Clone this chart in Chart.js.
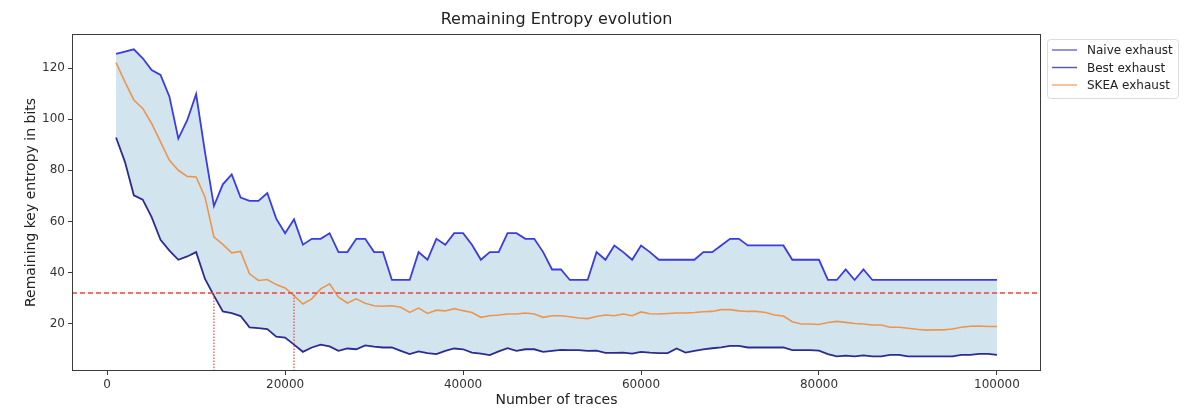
<!DOCTYPE html>
<html>
<head>
<meta charset="utf-8">
<script src="https://cdn.jsdelivr.net/npm/chart.js@4/dist/chart.umd.min.js"></script>
<style>
  html, body { margin: 0; padding: 0; background: #fff; }
  #wrap { width: 1200px; height: 414px; }
</style>
</head>
<body>
<div id="wrap"><canvas id="myChart" width="1200" height="414"></canvas></div>
<script>
'use strict'

// data

var traces = [
  1000, 2000, 3000, 4000, 5000, 6000, 7000, 8000, 9000, 10000,
  11000, 12000, 13000, 14000, 15000, 16000, 17000, 18000, 19000, 20000,
  21000, 22000, 23000, 24000, 25000, 26000, 27000, 28000, 29000, 30000,
  31000, 32000, 33000, 34000, 35000, 36000, 37000, 38000, 39000, 40000,
  41000, 42000, 43000, 44000, 45000, 46000, 47000, 48000, 49000, 50000,
  51000, 52000, 53000, 54000, 55000, 56000, 57000, 58000, 59000, 60000,
  61000, 62000, 63000, 64000, 65000, 66000, 67000, 68000, 69000, 70000,
  71000, 72000, 73000, 74000, 75000, 76000, 77000, 78000, 79000, 80000,
  81000, 82000, 83000, 84000, 85000, 86000, 87000, 88000, 89000, 90000,
  91000, 92000, 93000, 94000, 95000, 96000, 97000, 98000, 99000, 100000
];

var naive = [
  125.5, 126.4, 127.3, 123.8, 119.2, 117.3, 108.8, 92.4, 99.6, 109.8,
  87, 66, 74.5, 78.4, 69.3, 68, 68, 71.1, 61.1, 55.4,
  60.8, 50.9, 53.2, 53.2, 55.4, 48, 48, 53.2, 53.2, 48,
  48, 37.1, 37.1, 37.1, 48, 45, 53.2, 50.9, 55.4, 55.4,
  50.9, 45, 48, 48, 55.4, 55.4, 53.2, 53.2, 48, 41.2,
  41.2, 37.1, 37.1, 37.1, 48, 45, 50.6, 48, 45, 50.6,
  48, 45, 45, 45, 45, 45, 48, 48, 50.6, 53.2,
  53.2, 50.6, 50.6, 50.6, 50.6, 50.6, 45, 45, 45, 45,
  37.1, 37.1, 41.2, 37.1, 41.2, 37.1, 37.1, 37.1, 37.1, 37.1,
  37.1, 37.1, 37.1, 37.1, 37.1, 37.1, 37.1, 37.1, 37.1, 37.1
];

var best = [
  92.8, 83.3, 70.2, 68.5, 61.7, 52.8, 48.6, 45, 46.3, 48,
  37.5, 31, 24.8, 24.1, 23, 18.6, 18.3, 17.9, 14.9, 14.6,
  11.8, 9, 10.7, 11.8, 11.1, 9.4, 10.3, 10, 11.5, 11,
  10.7, 10.7, 9.4, 8.1, 9.2, 8.5, 8.1, 9.4, 10.3, 10,
  8.7, 8.3, 7.7, 9.2, 10.4, 9.4, 10, 10, 9, 9.4,
  9.8, 9.7, 9.7, 9.4, 9.5, 8.6, 8.6, 8.7, 8.3, 9,
  8.7, 8.5, 8.5, 10.3, 8.7, 9.4, 10, 10.4, 10.7, 11.3,
  11.3, 10.7, 10.7, 10.7, 10.7, 10.7, 9.7, 9.7, 9.7, 9.5,
  8.1, 7.2, 7.5, 7.2, 7.6, 7.2, 7.2, 7.8, 7.8, 7.2,
  7.2, 7.2, 7.2, 7.2, 7.2, 7.8, 7.8, 8.2, 8.2, 7.8
];

var skea = [
  122.1, 114.6, 107.5, 104.2, 98.3, 91.1, 83.9, 80, 77.6, 77.4,
  69.5, 53.9, 51, 47.7, 48.3, 39.5, 36.9, 37.3, 35.3, 34,
  31, 27.7, 29.7, 33.6, 35.6, 30.4, 28.1, 29.7, 28, 27,
  26.8, 27, 26.4, 24.4, 26.1, 24, 25.3, 25, 25.9, 25.1,
  24.4, 22.5, 23.1, 23.4, 23.8, 23.8, 24.2, 23.8, 22.5, 23.1,
  23.1, 22.7, 22.2, 22, 22.8, 23.4, 23.1, 23.8, 23.1, 24.6,
  23.9, 23.8, 24, 24.2, 24.2, 24.4, 24.7, 24.8, 25.5, 25.5,
  25, 24.8, 24.8, 24.4, 23.4, 23, 20.8, 19.9, 19.9, 19.7,
  20.5, 20.9, 20.5, 20.1, 19.9, 19.5, 19.5, 18.6, 18.6, 18.2,
  17.8, 17.5, 17.6, 17.6, 17.9, 18.6, 19, 19.1, 18.9, 18.9
];

var threshold = 32;
var crossings = [12000, 21000];

var xTicks = [0, 20000, 40000, 60000, 80000, 100000];
var yTicks = [20, 40, 60, 80, 100, 120];
var xRange = [-3950, 104950];
var yRange = [1.5, 133.3];

var legendLabels = ['Naive exhaust', 'Best exhaust', 'SKEA exhaust'];

// helpers

function pairs(xs, ys) {
  return xs.map(function(x, i) { return { x: x, y: ys[i] }; });
}

var FONT = "'DejaVu Sans', sans-serif";
var colNaive = '#3b3be3';
var colBest = '#2c2c8f';
var colSkea = '#ea9650';
var colFill = '#d2e5ef';
var colRed = '#e04848';

// frame, titles and legend drawn on top of the chart

var decorations = {
  id: 'decorations',
  afterDraw: function(chart) {
    var c = chart.ctx;
    var a = chart.chartArea;
    c.save();

    // box round the axes
    c.strokeStyle = '#3a3a3a';
    c.lineWidth = 1;
    c.strokeRect(a.left + 0.5, a.top + 0.5, a.right - a.left - 1, a.bottom - a.top - 1);

    // title
    c.fillStyle = '#222';
    c.font = '16px ' + FONT;
    c.textAlign = 'center';
    c.textBaseline = 'middle';
    c.fillText('Remaining Entropy evolution', (a.left + a.right) / 2, 20);

    // axis titles
    c.font = '14px ' + FONT;
    c.fillText('Number of traces', (a.left + a.right) / 2, 400);
    c.save();
    c.translate(31, (a.top + a.bottom) / 2);
    c.rotate(-Math.PI / 2);
    c.fillText('Remaining key entropy in bits', 0, 0);
    c.restore();

    // legend
    var lx = 1047, ly = 39, lw = 131, lh = 59;
    c.strokeStyle = '#dcdcdc';
    c.fillStyle = 'rgba(255,255,255,0.9)';
    c.beginPath();
    c.roundRect(lx + 0.5, ly + 0.5, lw, lh, 3);
    c.fill();
    c.stroke();
    var cols = ['#6e6ee6', '#5c5ca6', '#f2b07a'];
    c.font = '12px ' + FONT;
    c.textAlign = 'left';
    legendLabels.forEach(function(lbl, i) {
      var y = ly + 11 + i * 17.5;
      c.strokeStyle = cols[i];
      c.lineWidth = 1.5;
      c.beginPath();
      c.moveTo(lx + 5, y);
      c.lineTo(lx + 30, y);
      c.stroke();
      c.fillStyle = '#222';
      c.fillText(lbl, lx + 40, y + 1);
    });

    c.restore();
  }
};

var ctx = document.getElementById('myChart').getContext('2d');

var chart = new Chart(ctx, {
  type: 'line',
  data: {
    datasets: [{
      label: legendLabels[0],
      data: pairs(traces, naive),
      borderColor: colNaive,
      backgroundColor: colFill,
      borderWidth: 1.8,
      fill: '+1',
      order: 3
    },
    {
      label: legendLabels[1],
      data: pairs(traces, best),
      borderColor: colBest,
      borderWidth: 1.8,
      fill: false,
      order: 2
    },
    {
      label: legendLabels[2],
      data: pairs(traces, skea),
      borderColor: colSkea,
      borderWidth: 1.6,
      fill: false,
      order: 1
    },
    {
      label: 'threshold',
      data: pairs(xRange, [threshold, threshold]),
      borderColor: colRed,
      borderWidth: 1.4,
      borderDash: [5, 3],
      fill: false,
      order: 0
    },
    {
      label: 'cross1',
      data: pairs([crossings[0], crossings[0]], [yRange[0], threshold]),
      borderColor: colRed,
      borderWidth: 1.2,
      borderDash: [1.5, 1.5],
      fill: false,
      order: 0
    },
    {
      label: 'cross2',
      data: pairs([crossings[1], crossings[1]], [yRange[0], threshold]),
      borderColor: colRed,
      borderWidth: 1.2,
      borderDash: [1.5, 1.5],
      fill: false,
      order: 0
    }]
  },
  options: {
    responsive: false,
    animation: false,
    events: [],
    elements: {
      point: { radius: 0 },
      line: { tension: 0 }
    },
    layout: {
      padding: { top: 34, right: 159, left: 0, bottom: 0 }
    },
    plugins: {
      legend: { display: false },
      title: { display: false },
      tooltip: { enabled: false }
    },
    scales: {
      x: {
        type: 'linear',
        min: xRange[0],
        max: xRange[1],
        afterBuildTicks: function(scale) {
          scale.ticks = xTicks.map(function(v) { return { value: v }; });
        },
        afterFit: function(scale) { scale.height = 43; },
        grid: { drawOnChartArea: false, tickLength: 4, color: '#3a3a3a' },
        border: { display: false },
        ticks: {
          font: { family: FONT, size: 12 },
          color: '#333',
          padding: 3,
          maxRotation: 0,
          callback: function(v) { return String(v); }
        }
      },
      y: {
        min: yRange[0],
        max: yRange[1],
        afterBuildTicks: function(scale) {
          scale.ticks = yTicks.map(function(v) { return { value: v }; });
        },
        afterFit: function(scale) { scale.width = 72; },
        grid: { drawOnChartArea: false, tickLength: 4, color: '#3a3a3a' },
        border: { display: false },
        ticks: {
          font: { family: FONT, size: 12 },
          color: '#333',
          padding: 3
        }
      }
    }
  },
  plugins: [decorations]
});
</script>
</body>
</html>
